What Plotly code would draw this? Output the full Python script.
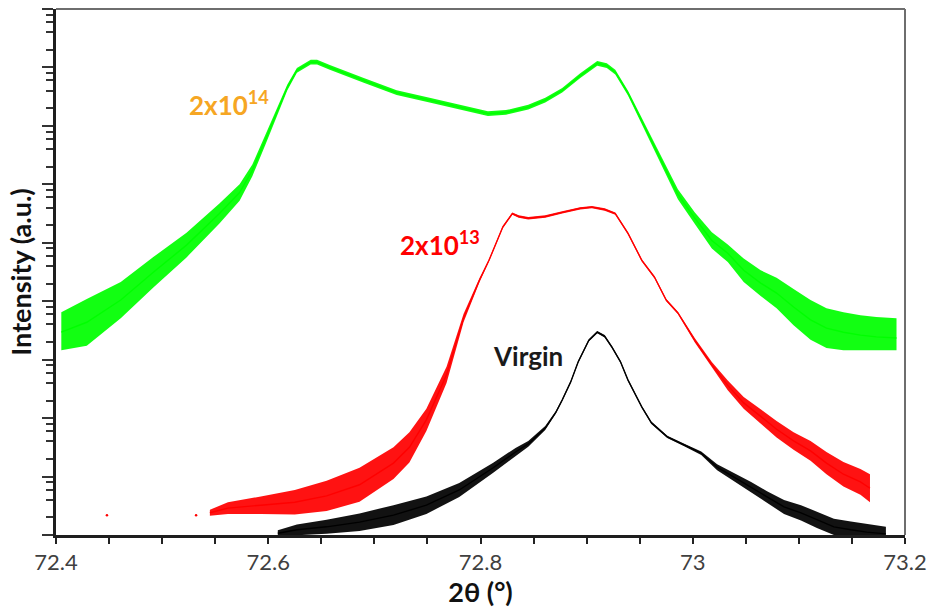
import numpy as np
import plotly.graph_objects as go

# 2theta positions (deg) and log10 intensity, with the
# half-width of the counting-noise band (in decades) at each position.

# --- 2x10^14 fluence ---
theta_2e14 = [72.405, 72.429, 72.461, 72.492, 72.523, 72.554, 72.573, 72.585, 72.597,
              72.609, 72.618, 72.627, 72.640, 72.646, 72.658, 72.690, 72.721, 72.752,
              72.784, 72.807, 72.824, 72.845, 72.861, 72.877, 72.894, 72.910, 72.919,
              72.927, 72.939, 72.955, 72.971, 72.986, 73.002, 73.018, 73.033, 73.048,
              73.064, 73.079, 73.095, 73.111, 73.126, 73.142, 73.158, 73.173, 73.192]
log_i_2e14 = [3.47, 3.64, 4.02, 4.50, 4.96, 5.50, 5.86, 6.24, 6.75,
              7.27, 7.66, 7.95, 8.09, 8.09, 8.00, 7.78, 7.57, 7.44,
              7.30, 7.21, 7.23, 7.32, 7.44, 7.61, 7.86, 8.07, 8.03,
              7.92, 7.56, 6.97, 6.38, 5.83, 5.42, 5.04, 4.82, 4.53,
              4.31, 4.14, 3.90, 3.68, 3.54, 3.47, 3.42, 3.39, 3.37]
noise_2e14 = [0.34, 0.40, 0.31, 0.26, 0.21, 0.17, 0.14, 0.10, 0.085,
              0.07, 0.05, 0.04, 0.04, 0.04, 0.04, 0.04, 0.04, 0.04,
              0.04, 0.04, 0.04, 0.04, 0.04, 0.04, 0.04, 0.04, 0.04,
              0.04, 0.04, 0.05, 0.07, 0.085, 0.10, 0.14, 0.15, 0.20,
              0.22, 0.26, 0.31, 0.34, 0.34, 0.34, 0.34, 0.34, 0.34]
floor_2e14 = 3.16

# --- 2x10^13 fluence ---
theta_2e13 = [72.545, 72.562, 72.593, 72.625, 72.655, 72.686, 72.718, 72.733, 72.749, 72.768,
              72.784, 72.799, 72.808, 72.821, 72.830, 72.836, 72.845, 72.861, 72.877, 72.894,
              72.905, 72.917, 72.927, 72.939, 72.952, 72.964, 72.975, 72.986, 73.002, 73.018,
              73.033, 73.048, 73.064, 73.079, 73.095, 73.111, 73.126, 73.142, 73.158, 73.167]
log_i_2e13 = [0.38, 0.46, 0.51, 0.56, 0.67, 0.86, 1.23, 1.50, 1.97, 2.74,
              3.71, 4.36, 4.70, 5.27, 5.50, 5.45, 5.42, 5.45, 5.52, 5.59,
              5.61, 5.57, 5.50, 5.16, 4.70, 4.41, 4.02, 3.80, 3.33, 2.91,
              2.56, 2.26, 2.03, 1.81, 1.61, 1.44, 1.23, 1.04, 0.91, 0.80]
noise_2e13 = [0.05, 0.10, 0.15, 0.21, 0.26, 0.29, 0.27, 0.26, 0.19, 0.14,
              0.07, 0.035, 0.02, 0.02, 0.02, 0.02, 0.02, 0.02, 0.02, 0.02,
              0.02, 0.02, 0.02, 0.02, 0.02, 0.02, 0.02, 0.02, 0.035, 0.05,
              0.085, 0.10, 0.12, 0.14, 0.15, 0.17, 0.19, 0.21, 0.22, 0.24]
floor_2e13 = 0.32
# isolated low-angle counts of the same scan
theta_2e13_dots = [72.448, 72.532]
log_i_2e13_dots = [0.34, 0.34]

# --- virgin sample ---
theta_virgin = [72.609, 72.627, 72.655, 72.686, 72.718, 72.749, 72.780, 72.812, 72.833, 72.845,
                72.861, 72.871, 72.877, 72.885, 72.892, 72.902, 72.910, 72.917, 72.924, 72.932,
                72.939, 72.946, 72.952, 72.961, 72.976, 72.992, 73.008, 73.023, 73.039, 73.055,
                73.070, 73.086, 73.102, 73.117, 73.133, 73.149, 73.164, 73.182]
log_i_virgin = [0.03, 0.09, 0.14, 0.22, 0.34, 0.51, 0.77, 1.15, 1.42, 1.56,
                1.83, 2.10, 2.31, 2.62, 2.96, 3.33, 3.47, 3.40, 3.21, 2.96,
                2.65, 2.39, 2.19, 1.92, 1.68, 1.54, 1.40, 1.16, 0.99, 0.82,
                0.65, 0.48, 0.38, 0.26, 0.14, 0.09, 0.05, 0.02]
noise_virgin = [0.05, 0.09, 0.12, 0.15, 0.17, 0.15, 0.12, 0.085, 0.07, 0.05,
                0.035, 0.02, 0.02, 0.02, 0.02, 0.02, 0.02, 0.02, 0.02, 0.02,
                0.02, 0.02, 0.02, 0.02, 0.02, 0.02, 0.03, 0.05, 0.07, 0.085,
                0.10, 0.12, 0.13, 0.14, 0.14, 0.14, 0.14, 0.12]
floor_virgin = None

# axis ticks
x_tick_vals = [72.4, 72.6, 72.8, 73.0, 73.2]
x_tick_text = ["72.4", "72.6", "72.8", "73", "73.2"]
y_decades = list(range(0, 10))
y_minor_digits = [2, 4, 6, 8]

GREEN = "#00ff00"
RED = "#ff0000"
BLACK = "#000000"
ORANGE = "#f6a623"
FONT = "Lato, 'Open Sans', 'DejaVu Sans', sans-serif"

fig = go.Figure()


def add_scan(theta, log_i, noise, floor, color, fill):
    log_i = np.asarray(log_i, dtype=float)
    noise = np.asarray(noise, dtype=float)
    upper = log_i + noise
    lower = log_i - noise
    if floor is not None:
        lower = np.maximum(lower, floor)
    fig.add_trace(go.Scatter(x=theta, y=10 ** upper, mode="lines",
                             line=dict(width=0, color=color), hoverinfo="skip"))
    fig.add_trace(go.Scatter(x=theta, y=10 ** lower, mode="lines",
                             line=dict(width=0, color=color), fill="tonexty",
                             fillcolor=fill, hoverinfo="skip"))
    fig.add_trace(go.Scatter(x=theta, y=10 ** log_i, mode="lines",
                             line=dict(width=1.4, color=color)))


add_scan(theta_2e14, log_i_2e14, noise_2e14, floor_2e14, GREEN, "rgba(0,255,0,0.93)")
add_scan(theta_2e13, log_i_2e13, noise_2e13, floor_2e13, RED, "rgba(255,0,0,0.93)")
fig.add_trace(go.Scatter(x=theta_2e13_dots, y=10 ** np.asarray(log_i_2e13_dots),
                         mode="markers", marker=dict(size=2.5, color=RED)))
add_scan(theta_virgin, log_i_virgin, noise_virgin, floor_virgin, BLACK, "rgba(0,0,0,0.93)")

y_major = [10.0 ** k for k in y_decades]
y_minor = [m * 10.0 ** k for k in y_decades[:-1] for m in y_minor_digits]

fig.update_layout(
    width=936, height=612,
    margin=dict(l=56, r=23, t=9, b=77),
    paper_bgcolor="white", plot_bgcolor="white",
    showlegend=False,
    font=dict(family=FONT),
    xaxis=dict(
        range=[72.4, 73.2], tickmode="array", tickvals=x_tick_vals, ticktext=x_tick_text,
        ticks="outside", ticklen=6, tickwidth=1.5, tickcolor="#222",
        tickfont=dict(size=22, color="#404040", family=FONT),
        minor=dict(dtick=0.05, ticks="outside", ticklen=6, tickwidth=1.5, tickcolor="#222",
                   showgrid=False),
        showline=True, linecolor="#1e1e1e", linewidth=2.5,
        showgrid=False, zeroline=False,
        title=dict(text="<b>2θ (°)</b>", font=dict(size=27, color="#111", family=FONT),
                   standoff=6),
    ),
    yaxis=dict(
        type="log", range=[0, 9], tickmode="array", tickvals=y_major,
        showticklabels=False,
        ticks="outside", ticklen=11, tickwidth=1.5, tickcolor="#333",
        minor=dict(tickmode="array", tickvals=y_minor, ticks="outside", ticklen=7,
                   tickwidth=1.5, tickcolor="#333", showgrid=False),
        showline=True, linecolor="#1e1e1e", linewidth=2.5,
        showgrid=False, zeroline=False,
        title=dict(text="<b>Intensity (a.u.)</b>", font=dict(size=27, color="#111", family=FONT),
                   standoff=3),
    ),
    shapes=[
        dict(type="line", xref="paper", yref="paper", x0=0, x1=1, y0=1, y1=1,
             line=dict(color="#6e6e6e", width=2)),
        dict(type="line", xref="paper", yref="paper", x0=1, x1=1, y0=0, y1=1,
             line=dict(color="#6e6e6e", width=2)),
    ],
    annotations=[
        dict(x=72.563, y=7.385, xref="x", yref="y", showarrow=False,
             text="<b>2x10<sup>14</sup></b>", font=dict(size=26, color=ORANGE, family=FONT)),
        dict(x=72.762, y=4.99, xref="x", yref="y", showarrow=False,
             text="<b>2x10<sup>13</sup></b>", font=dict(size=26, color=RED, family=FONT)),
        dict(x=72.845, y=3.06, xref="x", yref="y", showarrow=False,
             text="<b>Virgin</b>", font=dict(size=26, color="#1a1a1a", family=FONT)),
    ],
)

fig.write_html("out.html")
